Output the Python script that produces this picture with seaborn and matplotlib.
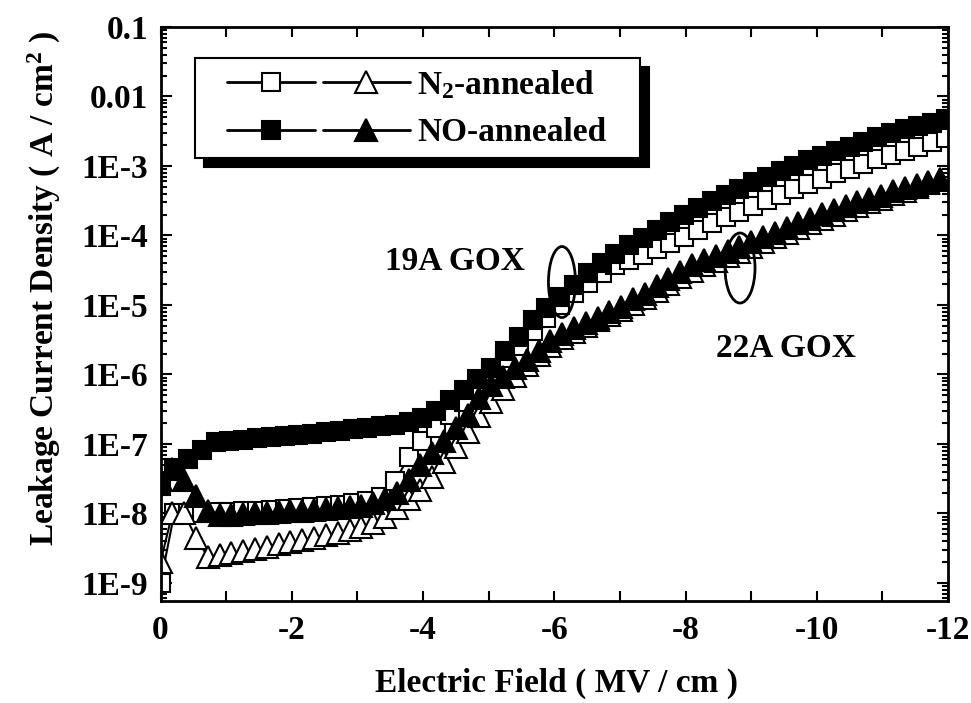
import matplotlib
matplotlib.use("Agg")
import numpy as np
import pandas as pd
import matplotlib.pyplot as plt
import seaborn as sns
from matplotlib.lines import Line2D
from matplotlib.legend_handler import HandlerTuple
from matplotlib.patches import Ellipse
from matplotlib.ticker import FixedLocator, FixedFormatter, LogLocator, MultipleLocator, NullFormatter

# ---------------- data ----------------
field_19A = [0, -0.21, -0.42, -0.63, -0.84, -1.05, -1.26, -1.47, -1.68, -1.89,
             -2.10, -2.31, -2.52, -2.73, -2.94, -3.15, -3.36, -3.57, -3.78, -3.99,
             -4.20, -4.41, -4.62, -4.83, -5.04, -5.25, -5.46, -5.67, -5.88, -6.09,
             -6.30, -6.51, -6.72, -6.93, -7.14, -7.35, -7.56, -7.77, -7.98, -8.19,
             -8.40, -8.61, -8.82, -9.03, -9.24, -9.45, -9.66, -9.87, -10.08, -10.29,
             -10.50, -10.71, -10.92, -11.13, -11.34, -11.55, -11.76, -11.97]
j_no_19A = [2.5e-8, 4.5e-8, 6.0e-8, 8.2e-8, 1.05e-7, 1.1e-7, 1.15e-7, 1.2e-7, 1.25e-7, 1.3e-7,
            1.35e-7, 1.4e-7, 1.47e-7, 1.55e-7, 1.62e-7, 1.7e-7, 1.8e-7, 1.9e-7, 2.05e-7, 2.4e-7,
            3.0e-7, 4.3e-7, 6.0e-7, 8.6e-7, 1.25e-6, 2.2e-6, 3.5e-6, 6.0e-6, 9.0e-6, 1.3e-5,
            1.95e-5, 2.9e-5, 4.0e-5, 5.4e-5, 7.2e-5, 9.3e-5, 1.2e-4, 1.55e-4, 2.0e-4, 2.5e-4,
            3.1e-4, 3.8e-4, 4.7e-4, 5.8e-4, 7.0e-4, 8.5e-4, 1.0e-3, 1.2e-3, 1.4e-3, 1.65e-3,
            1.9e-3, 2.2e-3, 2.6e-3, 3.0e-3, 3.4e-3, 3.8e-3, 4.2e-3, 4.7e-3]
j_n2_19A = [1.0e-9, 1.0e-8, 1.0e-8, 1.02e-8, 1.04e-8, 1.06e-8, 1.08e-8, 1.1e-8, 1.13e-8, 1.16e-8,
            1.2e-8, 1.24e-8, 1.28e-8, 1.33e-8, 1.4e-8, 1.5e-8, 1.75e-8, 2.9e-8, 6.4e-8, 1.1e-7,
            1.7e-7, 2.6e-7, 4.0e-7, 6.2e-7, 1.1e-6, 1.7e-6, 2.6e-6, 4.2e-6, 6.5e-6, 1.0e-5,
            1.5e-5, 2.1e-5, 2.9e-5, 3.8e-5, 4.5e-5, 5.2e-5, 6.4e-5, 7.8e-5, 9.6e-5, 1.2e-4,
            1.5e-4, 1.85e-4, 2.2e-4, 2.7e-4, 3.2e-4, 3.8e-4, 4.6e-4, 5.5e-4, 6.6e-4, 7.8e-4,
            9.2e-4, 1.08e-3, 1.25e-3, 1.45e-3, 1.65e-3, 1.9e-3, 2.2e-3, 2.5e-3]

field_22A = [0, -0.18, -0.36, -0.54, -0.72, -0.90, -1.08, -1.26, -1.44, -1.62,
             -1.80, -1.98, -2.16, -2.34, -2.52, -2.70, -2.88, -3.06, -3.24, -3.42,
             -3.60, -3.78, -3.96, -4.14, -4.32, -4.50, -4.68, -4.86, -5.04, -5.22,
             -5.40, -5.58, -5.76, -5.94, -6.12, -6.30, -6.48, -6.66, -6.84, -7.02,
             -7.20, -7.38, -7.56, -7.74, -7.92, -8.10, -8.28, -8.46, -8.64, -8.82,
             -9.00, -9.18, -9.36, -9.54, -9.72, -9.90, -10.08, -10.26, -10.44, -10.62,
             -10.80, -10.98, -11.16, -11.34, -11.52, -11.70, -11.88]
j_no_22A = [3.0e-8, 4.3e-8, 3.0e-8, 1.8e-8, 1.1e-8, 9.5e-9, 9.6e-9, 9.8e-9, 1.0e-8, 1.02e-8,
            1.05e-8, 1.08e-8, 1.1e-8, 1.13e-8, 1.17e-8, 1.2e-8, 1.25e-8, 1.3e-8, 1.4e-8, 1.6e-8,
            2.0e-8, 3.0e-8, 5.0e-8, 7.5e-8, 1.1e-7, 1.7e-7, 2.6e-7, 4.6e-7, 7.0e-7, 9.3e-7,
            1.25e-6, 1.6e-6, 2.2e-6, 3.0e-6, 3.8e-6, 4.6e-6, 5.5e-6, 6.5e-6, 7.8e-6, 9.5e-6,
            1.2e-5, 1.45e-5, 1.9e-5, 2.4e-5, 3.0e-5, 3.7e-5, 4.4e-5, 5.1e-5, 5.9e-5, 6.8e-5,
            8.0e-5, 9.5e-5, 1.1e-4, 1.3e-4, 1.5e-4, 1.75e-4, 2.05e-4, 2.35e-4, 2.65e-4, 3.0e-4,
            3.35e-4, 3.75e-4, 4.3e-4, 4.8e-4, 5.3e-4, 5.8e-4, 6.4e-4]
j_n2_22A = [2.0e-9, 1.0e-8, 1.0e-8, 4.5e-9, 2.4e-9, 2.5e-9, 2.7e-9, 2.9e-9, 3.1e-9, 3.3e-9,
            3.6e-9, 3.9e-9, 4.2e-9, 4.5e-9, 4.9e-9, 5.3e-9, 5.8e-9, 6.4e-9, 7.2e-9, 9.0e-9,
            1.2e-8, 1.6e-8, 2.2e-8, 3.3e-8, 5.5e-8, 9.0e-8, 1.5e-7, 2.5e-7, 4.0e-7, 6.2e-7,
            9.5e-7, 1.35e-6, 1.9e-6, 2.6e-6, 3.3e-6, 4.1e-6, 5.0e-6, 6.0e-6, 7.2e-6, 8.6e-6,
            1.05e-5, 1.28e-5, 1.6e-5, 2.0e-5, 2.5e-5, 3.1e-5, 3.7e-5, 4.3e-5, 5.0e-5, 5.8e-5,
            6.8e-5, 8.0e-5, 9.4e-5, 1.1e-4, 1.28e-4, 1.5e-4, 1.75e-4, 2.0e-4, 2.3e-4, 2.65e-4,
            3.0e-4, 3.4e-4, 3.9e-4, 4.4e-4, 5.0e-4, 5.6e-4, 6.2e-4]

x_tick_values = [0, -2, -4, -6, -8, -10, -12]
x_tick_labels = ["0", "-2", "-4", "-6", "-8", "-10", "-12"]
y_tick_values = [1e-9, 1e-8, 1e-7, 1e-6, 1e-5, 1e-4, 1e-3, 1e-2, 1e-1]
y_tick_labels = ["1E-9", "1E-8", "1E-7", "1E-6", "1E-5", "1E-4", "1E-3", "0.01", "0.1"]
legend_labels = ["N$_2$-annealed", "NO-annealed"]
note_labels = ["19A GOX", "22A GOX"]

# ---------------- style ----------------
sns.set_theme(style="ticks")
plt.rcParams["font.family"] = ["Liberation Serif", "DejaVu Serif"]
plt.rcParams.update({
    "font.weight": "bold",
    "axes.labelweight": "bold",
    "mathtext.fontset": "custom",
    "mathtext.rm": "Liberation Serif:bold",
    "mathtext.bf": "Liberation Serif:bold",
    "mathtext.it": "Liberation Serif:bold",
    "mathtext.default": "bf",
    "axes.unicode_minus": False,
    "text.color": "black",
    "axes.labelcolor": "black",
    "xtick.color": "black",
    "ytick.color": "black",
    "xtick.labelcolor": "black",
    "ytick.labelcolor": "black",
})

FS = 24
SQ, TR = 13, 15.5
fig = plt.figure(figsize=(9.71, 7.03), dpi=100)
ax = fig.add_axes([160.5 / 971, 102 / 703, 787.5 / 971, 574 / 703])
ax.set_yscale("log")

series = [
    (field_19A, j_n2_19A, "s", "white", SQ),
    (field_22A, j_n2_22A, "^", "white", TR),
    (field_19A, j_no_19A, "s", "black", SQ),
    (field_22A, j_no_22A, "^", "black", TR),
]
for xs, ys, mk, fc, ms in series:
    sns.lineplot(x=xs, y=ys, ax=ax, estimator=None, sort=False, color="black",
                 linewidth=1.5, marker=mk, markersize=ms, markerfacecolor=fc,
                 markeredgecolor="black", markeredgewidth=1.5)

ax.set_xlim(0, -12)
ax.set_ylim(5.5e-10, 0.1)

ax.xaxis.set_major_locator(FixedLocator(x_tick_values))
ax.xaxis.set_major_formatter(FixedFormatter(x_tick_labels))
ax.xaxis.set_minor_locator(MultipleLocator(1))
ax.yaxis.set_major_locator(FixedLocator(y_tick_values))
ax.yaxis.set_major_formatter(FixedFormatter(y_tick_labels))
ax.yaxis.set_minor_locator(LogLocator(base=10, subs=np.arange(2, 10), numticks=100))
ax.yaxis.set_minor_formatter(NullFormatter())

ax.tick_params(which="both", direction="in", top=True, right=True, width=1.5, color="black")
ax.tick_params(axis="x", which="both", length=7, pad=10, labelsize=FS)
ax.tick_params(axis="y", which="major", length=8, pad=9, labelsize=FS)
ax.tick_params(axis="y", which="minor", length=4)
for sp in ax.spines.values():
    sp.set_linewidth(2)
    sp.set_color("black")

ax.set_xlabel("Electric Field ( MV / cm )", fontsize=FS, fontweight="bold", color="black")
ax.xaxis.set_label_coords(0.503, -0.117)
ax.set_ylabel("Leakage Current Density ( A / cm$^2$ )", fontsize=FS, fontweight="bold", color="black")
ax.yaxis.set_label_coords(-0.124, 0.545)

# annotations
ax.text(-4.49, 3.2e-5, note_labels[0], fontsize=FS, fontweight="bold", ha="center", va="baseline")
ax.text(-9.53, 1.78e-6, note_labels[1], fontsize=FS, fontweight="bold", ha="center", va="baseline")
ax.add_patch(Ellipse((0.5098, 0.5557), 0.0343, 0.1237, transform=ax.transAxes,
                     fill=False, edgecolor="black", linewidth=2, zorder=5))
ax.add_patch(Ellipse((0.7359, 0.5801), 0.0381, 0.122, transform=ax.transAxes,
                     fill=False, edgecolor="black", linewidth=2, zorder=5))

# legend
def mk_handle(marker, fc, ms):
    return Line2D([], [], color="black", linewidth=2, marker=marker, markersize=ms,
                  markerfacecolor=fc, markeredgecolor="black", markeredgewidth=1.5)

h_n2 = (mk_handle("s", "white", 12.5), mk_handle("^", "white", 16))
h_no = (mk_handle("s", "black", 12.5), mk_handle("^", "black", 16))
leg = ax.legend([h_n2, h_no], legend_labels,
                handler_map={tuple: HandlerTuple(ndivide=None, pad=0.24, xpad=0.66)},
                loc="upper left", bbox_to_anchor=(0.0438, 0.746, 0.565, 0.2),
                mode="expand", borderaxespad=0,
                fontsize=FS, frameon=True, fancybox=False, edgecolor="black",
                facecolor="white", framealpha=1, handlelength=6.16, handleheight=0.7,
                handletextpad=0.2, borderpad=0.3, labelspacing=0.5,
                shadow={"ox": 6.5, "oy": -6.5, "facecolor": "black",
                        "edgecolor": "black", "alpha": 1})
leg.get_frame().set_linewidth(1.5)
for t in leg.get_texts():
    t.set_color("black")

fig.savefig("out.png", dpi=100)
